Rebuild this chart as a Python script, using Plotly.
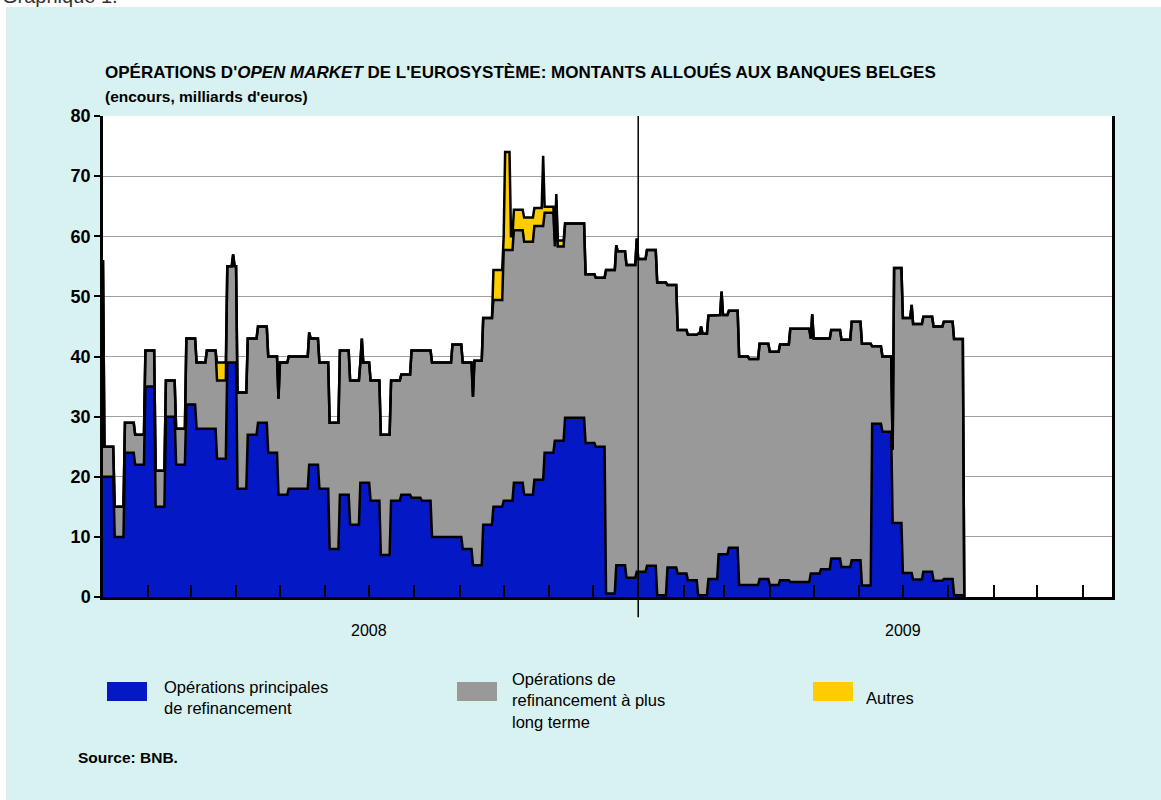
import pandas as pd
import plotly.graph_objects as go

# Montants alloués aux banques belges (milliards d'euros), une valeur par semaine
# à partir du mercredi 2 janvier 2008
premiere_semaine = "2008-01-02"

# Opérations principales de refinancement
opr = [20, 10, 24, 22, 35, 15, 30, 22, 32, 28,
       28, 23, 39, 18, 27, 29, 24, 17, 18, 18,
       22, 18, 8, 17, 12, 19, 16, 7, 16, 17,
       16.5, 16, 10, 10, 10, 8, 5.3, 12, 15, 16,
       19, 17, 19.5, 24, 26, 29.8, 29.8, 25.6, 25, 0.6,
       5.3, 3.2, 4.2, 5.2, 0.3, 4.9, 3.9, 2.8, 0.3, 3.0,
       7.1, 8.2, 2.0, 2.0, 3.0, 2.0, 2.8, 2.5, 2.5, 3.9,
       4.6, 6.4, 5.0, 6.1, 1.9, 28.8, 27.5, 12.3, 4.0, 2.9,
       4.2, 2.7, 3.0, 0.3, 0]

# Opérations de refinancement à plus long terme
orlt = [5, 5, 5, 5, 6, 6, 6, 6, 11, 11,
        13, 13, 16, 16, 16, 16, 16, 22, 22, 22,
        21, 21, 21, 24, 24, 20, 20, 20, 20, 20,
        24.5, 25, 29, 29, 32, 31, 34, 34.4, 34.4, 41.7,
        42, 42.1, 42.2, 39.9, 32.3, 32.3, 32.3, 28.1, 28.1, 53.8,
        52.2, 52, 52, 52.5, 52, 47, 40.5, 40.8, 43.5, 43.8,
        39.8, 39.4, 38, 37.6, 39.1, 38.8, 39.2, 42.1, 42.1, 39.1,
        38.4, 38, 37.8, 39.7, 40.2, 12.9, 12.5, 42.4, 42.4, 42.5,
        42.4, 42.3, 42.8, 42.6, 0]

# Autres opérations
autres = [0, 0, 0, 0, 0, 0, 0, 0, 0, 0,
          0, 3, 0, 0, 0, 0, 0, 0, 0, 0,
          0, 0, 0, 0, 0, 0, 0, 0, 0, 0,
          0, 0, 0, 0, 0, 0, 0, 0, 5, 2.3,
          3.4, 4, 3, 1, 1, 0, 0, 0, 0, 0,
          0, 0, 0, 0, 0, 0, 0, 0, 0, 0,
          0, 0, 0, 0, 0, 0, 0, 0, 0, 0,
          0, 0, 0, 0, 0, 0, 0, 0, 0, 0,
          0, 0, 0, 0, 0]

# Variations ponctuelles (quelques jours) des encours
pointes_debut = ["2008-01-01", "2008-03-30", "2008-04-30", "2008-05-21", "2008-06-26",
                 "2008-09-10", "2008-10-02", "2008-10-28", "2008-11-06", "2008-12-17",
                 "2008-12-31", "2009-02-13", "2009-02-27", "2009-04-30", "2009-06-24",
                 "2009-06-24", "2009-07-07"]
pointes_fin = ["2008-01-01", "2008-03-30", "2008-04-30", "2008-05-21", "2008-06-26",
               "2008-09-10", "2008-10-05", "2008-10-28", "2008-11-06", "2008-12-17",
               "2008-12-31", "2009-02-13", "2009-02-27", "2009-04-30", "2009-06-24",
               "2009-06-24", "2009-07-07"]
pointes_series = ["orlt", "orlt", "orlt", "orlt", "orlt",
                  "orlt", "autres", "autres", "orlt", "orlt",
                  "orlt", "orlt", "orlt", "orlt", "opr",
                  "orlt", "orlt"]
pointes_valeurs = [36, 18, 16, 22, 24,
                   28, 16.3, 11.7, 40, 53.2,
                   55.4, 44.7, 43.7, 43.1, 12.3,
                   12.2, 44.6]

noms = ["Opérations principales<br>de refinancement",
        "Opérations de<br>refinancement à plus<br>long terme",
        "Autres"]
couleurs = {"opr": "#0418c6", "orlt": "#999999", "autres": "#ffcc00"}
fond = "#d8f1f1"
police = "Liberation Sans, Arial, sans-serif"

# Séries journalières
semaines = pd.date_range(premiere_semaine, periods=len(opr), freq="7D")
hebdo = pd.DataFrame({"opr": opr, "orlt": orlt, "autres": autres}, index=semaines)
jours = pd.date_range("2008-01-01", semaines[-1], freq="D")
df = hebdo.reindex(jours).ffill().bfill()
for d0, d1, s, v in zip(pointes_debut, pointes_fin, pointes_series, pointes_valeurs):
    df.loc[pd.Timestamp(d0):pd.Timestamp(d1), s] = v

cumul1 = df["opr"]
cumul2 = cumul1 + df["orlt"]
cumul3 = cumul2 + df["autres"]

fig = go.Figure()
fig.add_trace(go.Scatter(x=df.index, y=cumul1, mode="lines", fill="tozeroy",
                         fillcolor=couleurs["opr"], line=dict(color="black", width=2.5),
                         hoverinfo="skip"))
fig.add_trace(go.Scatter(x=df.index, y=cumul2, mode="lines", fill="tonexty",
                         fillcolor=couleurs["orlt"], line=dict(color="black", width=2.5),
                         hoverinfo="skip"))
fig.add_trace(go.Scatter(x=df.index, y=cumul3, mode="lines", fill="tonexty",
                         fillcolor=couleurs["autres"], line=dict(color="black", width=2.5),
                         hoverinfo="skip"))

mois = pd.date_range("2008-02-01", "2009-11-01", freq="MS")

fig.update_layout(
    width=1161, height=800,
    margin=dict(l=103, r=49, t=116, b=203),
    paper_bgcolor=fond,
    plot_bgcolor="white",
    showlegend=False,
    font=dict(family=police, color="black"),
    xaxis=dict(
        type="date", range=["2008-01-01", "2009-11-21"],
        showgrid=False, zeroline=False,
        showline=True, linecolor="black", linewidth=2.5,
        tickmode="array", tickvals=list(mois), ticktext=[""] * len(mois),
        ticks="inside", ticklen=12, tickwidth=2, tickcolor="black",
        showticklabels=False,
    ),
    yaxis=dict(
        range=[0, 80], dtick=10, tick0=0,
        showgrid=True, gridcolor="#a0a0a0", gridwidth=1.2,
        zeroline=False,
        showline=True, linecolor="black", linewidth=2.5, mirror=True,
        ticks="outside", ticklen=6, tickwidth=1.5, tickcolor="black",
        tickfont=dict(size=18, family=police, weight="bold"),
    ),
)

# fond blanc autour du cadre cyan
fig.add_shape(type="rect", xref="paper", yref="paper", x0=-0.11, x1=1.06,
              y0=(597 - 7) / 481, y1=1.26, fillcolor="white", line_width=0, layer="below")
fig.add_shape(type="rect", xref="paper", yref="paper", x0=-0.11, x1=-0.0961,
              y0=-0.43, y1=1.26, fillcolor="white", line_width=0, layer="below")

# séparation des années
fig.add_shape(type="line", xref="x", yref="paper", x0="2009-01-01", x1="2009-01-01",
              y0=-0.042, y1=1, line=dict(color="black", width=1.5))

# titres
fig.add_annotation(text="Graphique 1.", xref="paper", yref="paper", x=-0.1021, y=1.2225,
                   xanchor="left", yanchor="bottom", showarrow=False,
                   font=dict(size=20, color="#333333"))
fig.add_annotation(text="<b>OPÉRATIONS D'<i>OPEN MARKET</i> DE L'EUROSYSTÈME: MONTANTS ALLOUÉS AUX BANQUES BELGES</b>",
                   xref="paper", yref="paper", x=0, y=(597 - 72) / 481,
                   xanchor="left", yanchor="middle", showarrow=False,
                   font=dict(size=17))
fig.add_annotation(text="<b>(encours, milliards d'euros)</b>",
                   xref="paper", yref="paper", x=0, y=(597 - 97) / 481,
                   xanchor="left", yanchor="middle", showarrow=False,
                   font=dict(size=15.5))

# années
for annee in ["2008", "2009"]:
    fig.add_annotation(text=annee, xref="x", yref="paper", x=annee + "-07-01",
                       y=(597 - 630) / 481, xanchor="center", yanchor="middle",
                       showarrow=False, font=dict(size=16))

# légende
legende_x = [(107, 162, 697), (457, 510, 700), (813, 864, 698)]
for (cx, tx, ty), nom, cle in zip(legende_x, noms, ["opr", "orlt", "autres"]):
    fig.add_shape(type="rect", xref="paper", yref="paper",
                  x0=(cx - 103) / 1009, x1=(cx + 40 - 103) / 1009,
                  y0=(597 - 701) / 481, y1=(597 - 682) / 481,
                  fillcolor=couleurs[cle], line_width=0)
    fig.add_annotation(text=nom, xref="paper", yref="paper",
                       x=(tx - 103) / 1009, y=(597 - ty) / 481,
                       xanchor="left", yanchor="middle", align="left",
                       showarrow=False, font=dict(size=16.5))

fig.add_annotation(text="<b>Source: BNB.</b>", xref="paper", yref="paper",
                   x=(76 - 103) / 1009, y=(597 - 757) / 481,
                   xanchor="left", yanchor="middle", showarrow=False,
                   font=dict(size=15.5))

# la page sans marge, pour que la figure occupe toute la fenêtre
fig.write_html("out.html", config={"displayModeBar": False},
               post_script="document.body.style.margin = '0px';")
